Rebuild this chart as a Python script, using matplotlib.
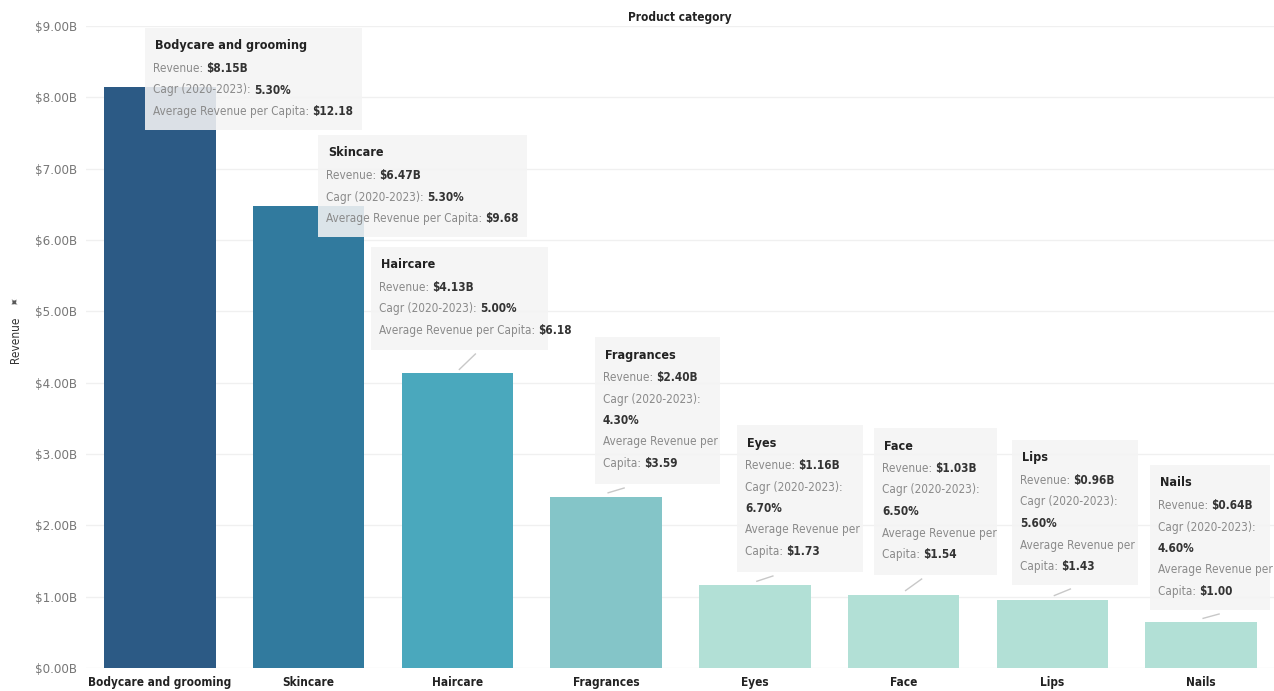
import matplotlib
matplotlib.use("Agg")
import matplotlib.pyplot as plt
from matplotlib.patches import Rectangle
from matplotlib.ticker import FuncFormatter, MultipleLocator

plt.rcParams['text.parse_math'] = False
plt.rcParams['font.family'] = ['DejaVu Sans']
plt.rcParams['font.stretch'] = 'condensed'

categories = ["Bodycare and grooming", "Skincare", "Haircare", "Fragrances",
              "Eyes", "Face", "Lips", "Nails"]
revenue = [8.15, 6.47, 4.13, 2.40, 1.16, 1.03, 0.96, 0.64]
cagr = [5.30, 5.30, 5.00, 4.30, 6.70, 6.50, 5.60, 4.60]
arpc = [12.18, 9.68, 6.18, 3.59, 1.73, 1.54, 1.43, 1.00]
bar_colors = ["#2c5a85", "#317a9e", "#4aa8bd", "#84c5c8",
              "#b2e0d6", "#b2e0d6", "#b2e0d6", "#b2e0d6"]

# annotation box layout (pixel coordinates: left, top, right, bottom)
box_px = [(145, 28, 362, 130), (318, 135, 527, 237), (371, 247, 548, 350),
          (595, 337, 720, 484), (737, 425, 863, 572), (874, 428, 997, 575),
          (1012, 440, 1138, 585), (1150, 465, 1270, 610)]
wrap = [False, False, False, True, True, True, True, True]

W, H = 1274, 691
fig = plt.figure(figsize=(W / 100, H / 100), dpi=100)
ax = fig.add_axes([85.5 / W, 23 / H, 1188.5 / W, 642 / H])

x = list(range(len(categories)))
ax.bar(x, revenue, width=0.75, color=bar_colors, zorder=2)
ax.set_xlim(-0.5, 7.49)
ax.set_ylim(0, 9.0)
ax.yaxis.set_major_locator(MultipleLocator(1.0))
ax.yaxis.set_major_formatter(FuncFormatter(lambda v, p: f"${v:.2f}B"))
ax.grid(axis='y', color='#f0f0f0', linewidth=1, zorder=0)
for s in ax.spines.values():
    s.set_visible(False)
ax.tick_params(axis='both', length=0)
ax.tick_params(axis='y', labelsize=9.5, labelcolor='#777777', pad=6)
ax.set_xticks(x)
ax.set_xticklabels(categories, fontsize=8.5, color='#222222', fontweight='bold')
ax.tick_params(axis='x', pad=6)

fig.text(680 / W, 1 - 18 / H, "Product category", ha='center', va='center',
         fontsize=8.5, color='#222222', fontweight='bold')
fig.text(15 / W, 1 - 340 / H, "Revenue", ha='center', va='center', rotation=90,
         fontsize=8.5, color='#333333')
fig.text(15 / W, 1 - 303 / H, "✦", ha='center', va='center', rotation=45,
         fontsize=8, color='#555555')

fig.canvas.draw()
renderer = fig.canvas.get_renderer()

label_c = '#8a8a8a'
value_c = '#333333'
fs = 8.5

for i in range(len(categories)):
    l, t, r, b = box_px[i]
    rect = Rectangle((l, H - b), r - l, b - t, transform=None,
                     facecolor='#f4f4f4', alpha=0.88, edgecolor='none', zorder=3)
    fig.patches.append(rect)
    rect.set_figure(fig)
    if wrap[i]:
        lines = [("Revenue: ", f"${revenue[i]:.2f}B"),
                 ("Cagr (2020-2023):", ""),
                 ("", f"{cagr[i]:.2f}%"),
                 ("Average Revenue per", ""),
                 ("Capita: ", f"${arpc[i]:.2f}")]
    else:
        lines = [("Revenue: ", f"${revenue[i]:.2f}B"),
                 ("Cagr (2020-2023): ", f"{cagr[i]:.2f}%"),
                 ("Average Revenue per Capita: ", f"${arpc[i]:.2f}")]
    tx = l + 8
    ty = t + 18
    fig.text(tx / W + 2 / W, 1 - ty / H, categories[i], ha='left', va='center',
             fontsize=9, fontweight='bold', color='#222222', zorder=5)
    for k, (lab, val) in enumerate(lines):
        yy = ty + 22.5 + k * 21.5
        xx = tx
        if lab:
            tt = fig.text(xx / W, 1 - yy / H, lab, ha='left', va='center',
                          fontsize=fs, color=label_c, zorder=5)
            bb = tt.get_window_extent(renderer)
            xx = bb.x1
        if val:
            fig.text(xx / W, 1 - yy / H, val, ha='left', va='center',
                     fontsize=fs, color=value_c, fontweight='bold', zorder=5)
    # leader line from bar top to box bottom
    bx, by = ax.transData.transform((i, revenue[i]))
    x0 = bx + 2
    y0 = by + 4
    x1 = min(max(bx + 18, l + 5), r - 5)
    y1 = H - b - 4
    if y1 > y0:
        fig.add_artist(plt.Line2D([x0 / W, x1 / W], [y0 / H, y1 / H],
                                  color='#c8c8c8', linewidth=1, zorder=4))

fig.savefig("out.png", dpi=100)
